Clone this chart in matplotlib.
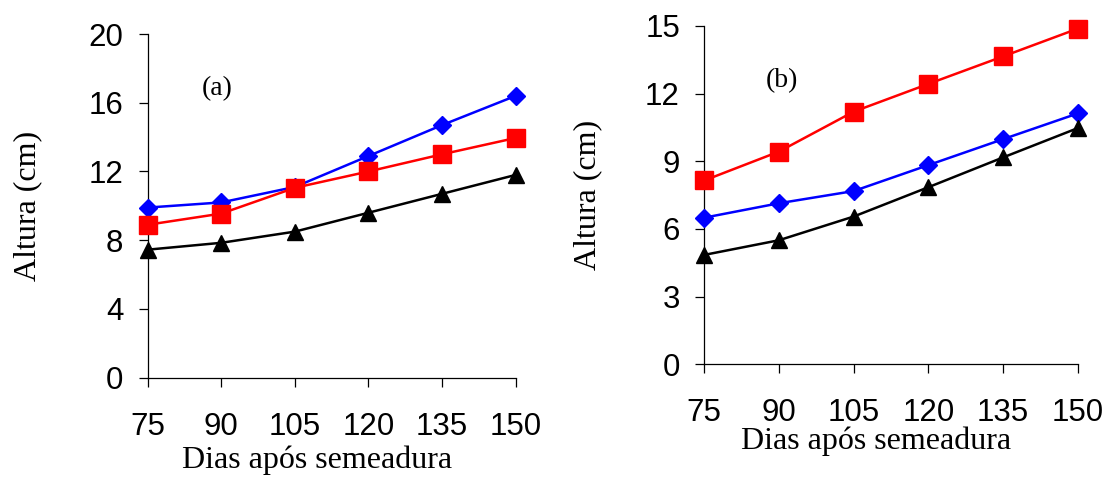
import numpy as np
import matplotlib
matplotlib.use("Agg")
import matplotlib.pyplot as plt

plt.rcParams.update({
    "font.family": ["Liberation Sans", "DejaVu Sans"],
    "axes.spines.top": False, "axes.spines.right": False,
    "axes.linewidth": 0.9,
    "xtick.direction": "out", "ytick.direction": "out",
    "xtick.major.size": 6.5, "ytick.major.size": 6.5,
    "xtick.major.width": 0.9, "ytick.major.width": 0.9,
    "xtick.labelsize": 22.5, "ytick.labelsize": 22.5,
})
SERIF = ["Liberation Serif", "DejaVu Serif"]

dias = [75, 90, 105, 120, 135, 150]

# panel (a)
a_blue = [9.9, 10.2, 11.1, 12.9, 14.7, 16.4]
a_red = [8.9, 9.55, 11.05, 12.0, 13.0, 13.95]
a_black = [7.45, 7.85, 8.5, 9.6, 10.7, 11.8]

# panel (b)
b_red = [8.15, 9.43, 11.2, 12.43, 13.65, 14.88]
b_blue = [6.5, 7.14, 7.68, 8.83, 9.98, 11.12]
b_black = [4.85, 5.5, 6.55, 7.85, 9.17, 10.47]

fig = plt.figure(figsize=(11.07, 4.83), dpi=100)
ax1 = fig.add_axes([0.1334, 0.218, 0.3324, 0.7116])
ax2 = fig.add_axes([0.6362, 0.2458, 0.3373, 0.7004])

def series(ax, blue, red, black):
    ax.plot(dias, blue, color="#0000FF", lw=1.8, marker="D", ms=9.5, clip_on=False, zorder=3)
    ax.plot(dias, red, color="#FF0000", lw=1.8, marker="s", ms=12.5, clip_on=False, zorder=3)
    ax.plot(dias, black, color="black", lw=1.8, marker="^", ms=12, clip_on=False, zorder=3)

series(ax1, a_blue, a_red, a_black)
series(ax2, b_blue, b_red, b_black)

ax1.set_ylim(0, 20); ax1.set_yticks([0, 4, 8, 12, 16, 20])
ax2.set_ylim(0, 15); ax2.set_yticks([0, 3, 6, 9, 12, 15])

for ax in (ax1, ax2):
    ax.set_xlim(75, 150)
    ax.set_xticks(dias)
    ax.tick_params(axis="x", pad=18)
    ax.tick_params(axis="y", pad=11)
    ax.set_xlabel("Dias após semeadura", family=SERIF, fontsize=23, va="baseline")
    ax.set_ylabel("Altura (cm)", family=SERIF, fontsize=23)

ax1.xaxis.set_label_coords(0.46, -0.262)
ax1.yaxis.set_label_coords(-0.287, 0.5)
ax2.xaxis.set_label_coords(0.46, -0.25)
ax2.yaxis.set_label_coords(-0.274, 0.5)

ax1.text(89.1, 16.85, "(a)", family=SERIF, fontsize=20, ha="center", va="center")
ax2.text(90.5, 12.57, "(b)", family=SERIF, fontsize=20, ha="center", va="center")

fig.savefig("out.png", dpi=100)
